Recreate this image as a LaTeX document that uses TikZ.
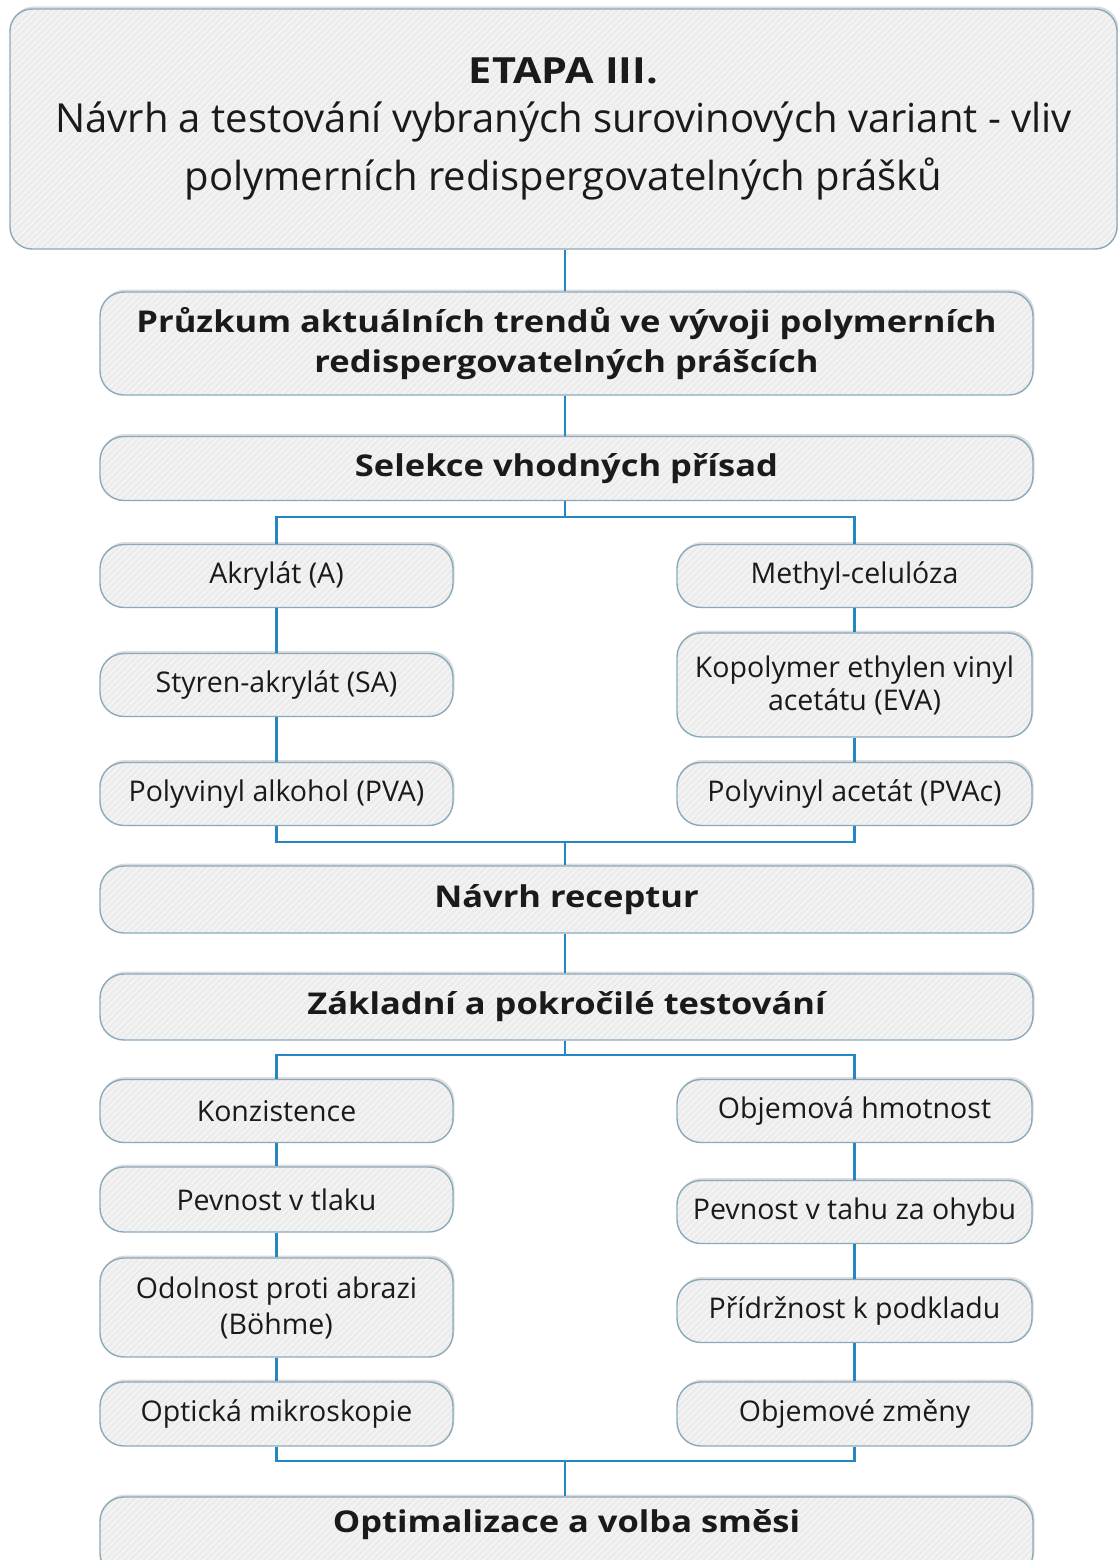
\documentclass[tikz,border=0pt]{standalone}
\usepackage{fontspec}
\setmainfont{Open Sans}
\newfontfamily\bstr{Open Sans}[FakeStretch=1.15]
\usetikzlibrary{patterns.meta,shadows}
\definecolor{boxfill}{HTML}{ECECEC}
\definecolor{stripe}{HTML}{F6F6F6}
\definecolor{boxline}{HTML}{8AAABB}
\definecolor{conn}{HTML}{2586C4}
\definecolor{txt}{HTML}{1A1A1A}
\tikzset{
  card/.style={rectangle, rounded corners=#1, draw=boxline, line width=1.4pt,
    preaction={fill=boxfill, drop shadow={shadow xshift=1.5pt, shadow yshift=2.5pt, opacity=0.22, fill=black!60}},
    pattern={Lines[angle=45,distance=4.5pt,line width=1.3pt]}, pattern color=stripe,
    inner sep=0pt, align=center, text=txt},
  card/.default=22pt,
  smallbox/.style={card=24pt, minimum width=353pt, minimum height=63pt,
    font=\fontsize{28.5}{33}\selectfont},
  bigbox/.style={card=24pt, minimum width=933pt,
    font=\fontsize{30}{40}\selectfont\bstr\bfseries},
  link/.style={draw=conn, line width=2.4pt},
}
\begin{document}
\begin{tikzpicture}[x=1pt,y=-1pt]
\useasboundingbox (0,0) rectangle (1118,1560);
% top box
\node[card=22pt, minimum width=1107pt, minimum height=240pt,
      font=\fontsize{40}{58}\selectfont] (top) at (563.5,129)
  {{\fontsize{36}{50}\selectfont\bstr\bfseries ETAPA III.}\\[-9pt]
   Návrh a testování vybraných surovinových variant - vliv\\
   polymerních redispergovatelných prášků};
% main column
\node[bigbox, minimum height=103pt] (pruz) at (566.5,343.5)
  {Průzkum aktuálních trendů ve vývoji polymerních\\redispergovatelných prášcích};
\node[bigbox, minimum height=64pt] (sel) at (566.5,468.5) {Selekce vhodných přísad};
% left column 1
\node[smallbox] (akr) at (276.5,576) {Akrylát (A)};
\node[smallbox] (sty) at (276.5,685) {Styren-akrylát (SA)};
\node[smallbox] (pva) at (276.5,794) {Polyvinyl alkohol (PVA)};
% right column 1
\node[smallbox, minimum width=355pt] (met) at (854.5,576) {Methyl-celulóza};
\node[smallbox, minimum width=355pt, minimum height=104pt] (kop) at (854.5,685)
  {Kopolymer ethylen vinyl\\acetátu (EVA)};
\node[smallbox, minimum width=355pt] (pvac) at (854.5,794) {Polyvinyl acetát (PVAc)};
% middle
\node[bigbox, minimum height=67pt] (nav) at (566.5,899.5) {Návrh receptur};
\node[bigbox, minimum height=66pt] (zak) at (566.5,1007) {Základní a pokročilé testování};
% left column 2
\node[smallbox] (kon) at (276.5,1111) {Konzistence};
\node[smallbox, minimum height=65pt] (ptl) at (276.5,1199.5) {Pevnost v tlaku};
\node[smallbox, minimum height=99pt, font=\fontsize{28.5}{36}\selectfont] (odo) at (276.5,1307.5)
  {Odolnost proti abrazi\\(Böhme)};
\node[smallbox, minimum height=64pt] (opt) at (276.5,1414) {Optická mikroskopie};
% right column 2
\node[smallbox, minimum width=355pt] (obj) at (854.5,1111) {Objemová hmotnost};
\node[smallbox, minimum width=355pt] (pth) at (854.5,1212) {Pevnost v tahu za ohybu};
\node[smallbox, minimum width=355pt] (pri) at (854.5,1311) {Přídržnost k podkladu};
\node[smallbox, minimum width=355pt, minimum height=64pt] (ozm) at (854.5,1414) {Objemové změny};
% bottom
\node[bigbox, minimum height=80pt] (optm) at (566.5,1537) {};
\node[font=\fontsize{30}{40}\selectfont\bstr\bfseries, text=txt] (optmt) at (566.5,1525) {Optimalizace a volba směsi};
% connectors
\coordinate (b1) at (565,517);
\coordinate (m1) at (565,842);
\coordinate (b2) at (565,1055);
\coordinate (m2) at (565,1461);
\draw[link] (top.south -| b1) -- (pruz.north -| b1);
\draw[link] (pruz.south -| b1) -- (sel.north -| b1);
\draw[link] (sel.south -| b1) -- (b1);
\draw[link] (akr.north) |- (b1) -| (met.north);
\draw[link] (akr) -- (sty) (sty) -- (pva);
\draw[link] (met) -- (kop) (kop) -- (pvac);
\draw[link] (pva.south) |- (m1) -| (pvac.south);
\draw[link] (m1) -- (nav.north -| m1);
\draw[link] (nav.south -| b1) -- (zak.north -| b1);
\draw[link] (zak.south -| b2) -- (b2);
\draw[link] (kon.north) |- (b2) -| (obj.north);
\draw[link] (kon) -- (ptl) (ptl) -- (odo) (odo) -- (opt);
\draw[link] (obj) -- (pth) (pth) -- (pri) (pri) -- (ozm);
\draw[link] (opt.south) |- (m2) -| (ozm.south);
\draw[link] (m2) -- (optm.north -| m2);
\end{tikzpicture}
\end{document}
